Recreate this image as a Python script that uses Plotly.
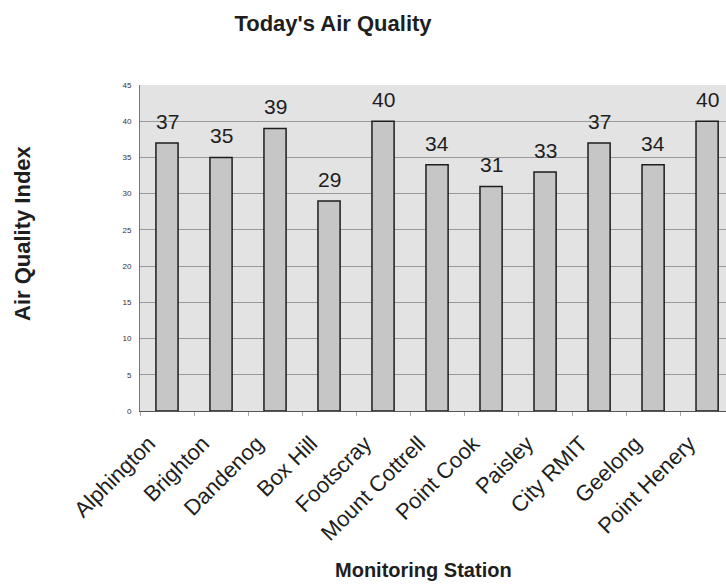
import plotly.graph_objects as go

stations = ["Alphington", "Brighton", "Dandenog", "Box Hill", "Footscray",
            "Mount Cottrell", "Point Cook", "Paisley", "City RMIT", "Geelong",
            "Point Henery"]
aqi = [37, 35, 39, 29, 40, 34, 31, 33, 37, 34, 40]
y_ticks = [0, 5, 10, 15, 20, 25, 30, 35, 40, 45]

FONT = "Liberation Sans, Arial, sans-serif"
INK = "#1e1e1e"

W, H = 726, 585
L, R, T, B = 140, 0, 85, 174
PW, PH = W - L - R, H - T - B

fig = go.Figure(go.Bar(
    x=stations,
    y=aqi,
    marker=dict(color="#c6c6c6", line=dict(color=INK, width=1.5)),
    width=0.41,
))

# value labels sitting a little above each bar
for name, v in zip(stations, aqi):
    fig.add_annotation(x=name, y=v, text=str(v), showarrow=False,
                       yanchor="bottom", yshift=8,
                       font=dict(family=FONT, size=21, color=INK))

fig.update_layout(
    width=W, height=H,
    margin=dict(l=L, r=R, t=T, b=B),
    paper_bgcolor="white",
    plot_bgcolor="#e3e3e3",
    showlegend=False,
    font=dict(family=FONT, color=INK),
    title=dict(text="<b>Today's Air Quality</b>", xref="container", yref="container",
               x=333 / W, y=1 - 23 / H, xanchor="center", yanchor="middle",
               font=dict(size=22, color=INK)),
    xaxis=dict(
        type="category", range=[-0.5, 10.35],
        tickangle=-45, tickfont=dict(size=22, color=INK),
        ticklabelstandoff=10, ticklabelshift=-18,
        tickson="boundaries",
        showgrid=False, showline=True, linecolor="#555", linewidth=1,
        ticks="outside", ticklen=4, tickcolor="#aaa",
    ),
    yaxis=dict(
        range=[0, 45], tickmode="array", tickvals=y_ticks,
        tickfont=dict(size=8, color="#333"),
        ticklabelstandoff=6,
        showgrid=True, gridcolor="#9a9a9a", gridwidth=1,
        showline=True, linecolor="#777", linewidth=1,
        zeroline=False, ticks="",
    ),
)

fig.add_annotation(text="<b>Air Quality Index</b>", xref="paper", yref="paper",
                   x=(22 - L) / PW, y=(H - B - 233) / PH, textangle=-90,
                   xanchor="center", yanchor="middle", showarrow=False,
                   font=dict(size=22, color=INK))
fig.add_annotation(text="<b>Monitoring Station</b>", xref="paper", yref="paper",
                   x=(333 - L) / PW, y=(H - B - 570) / PH,
                   xanchor="left", yanchor="middle", showarrow=False,
                   font=dict(size=20, color=INK))

fig.write_html("out.html")
